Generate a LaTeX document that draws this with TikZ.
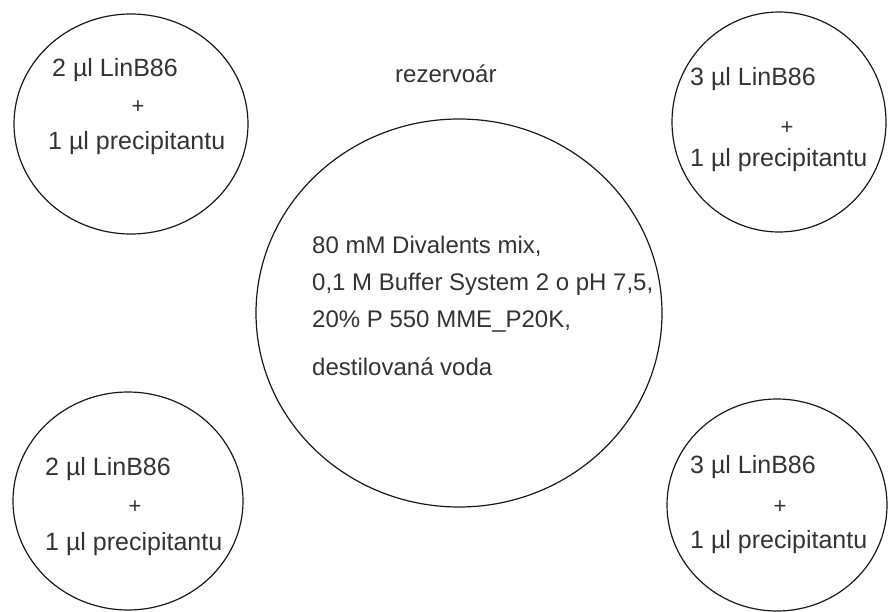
\documentclass[tikz,border=0pt]{standalone}
\usepackage{fontspec}
\setmainfont{Liberation Sans}
\usetikzlibrary{shapes.geometric}
\tikzset{
  well/.style={draw=black!90, line width=1.2pt, ellipse, inner sep=0pt},
  lbl/.style={anchor=base west, inner sep=0pt, text=black!80, font=\fontsize{25}{30}\selectfont},
  plus/.style={anchor=base, inner sep=0pt, text=black!80, font=\fontsize{22}{26}\selectfont},
  mid/.style={anchor=base west, inner sep=0pt, text=black!80, font=\fontsize{24}{29}\selectfont}
}
\begin{document}
\begin{tikzpicture}[x=1pt,y=-1pt]
\useasboundingbox (0,0) rectangle (888,612);
% wells
\node[well, minimum width=234pt, minimum height=220pt] (tl) at (131,124) {};
\node[well, minimum width=214pt, minimum height=220pt] (tr) at (779,122) {};
\node[well, minimum width=230pt, minimum height=218pt] (bl) at (128,501) {};
\node[well, minimum width=220pt, minimum height=212pt] (br) at (777,505) {};
\node[well, minimum width=406pt, minimum height=388pt] (res) at (459,313) {};
% top-left
\node[lbl] (tl1) at (52,77) {2 µl LinB86};
\node[plus] (tl2) at (138,114) {+};
\node[lbl] (tl3) at (48,150) {1 µl precipitantu};
% top-right
\node[lbl] (tr1) at (690,86) {3 µl LinB86};
\node[plus] (tr2) at (787,135) {+};
\node[lbl] (tr3) at (690,167) {1 µl precipitantu};
% bottom-left
\node[lbl] (bl1) at (45,475) {2 µl LinB86};
\node[plus] (bl2) at (135,513) {+};
\node[lbl] (bl3) at (45,550) {1 µl precipitantu};
% bottom-right
\node[lbl] (br1) at (690,473) {3 µl LinB86};
\node[plus] (br2) at (780,513) {+};
\node[lbl] (br3) at (690,548) {1 µl precipitantu};
% reservoir
\node[mid] (title) at (395,83) {rezervoár};
\node[mid] (r1) at (312,254) {80 mM Divalents mix,};
\node[mid] (r2) at (312,290) {0,1 M Buffer System 2 o pH 7,5,};
\node[mid] (r3) at (312,327) {20\% P 550 MME\_P20K,};
\node[mid] (r4) at (312,375) {destilovaná voda};
\end{tikzpicture}
\end{document}
